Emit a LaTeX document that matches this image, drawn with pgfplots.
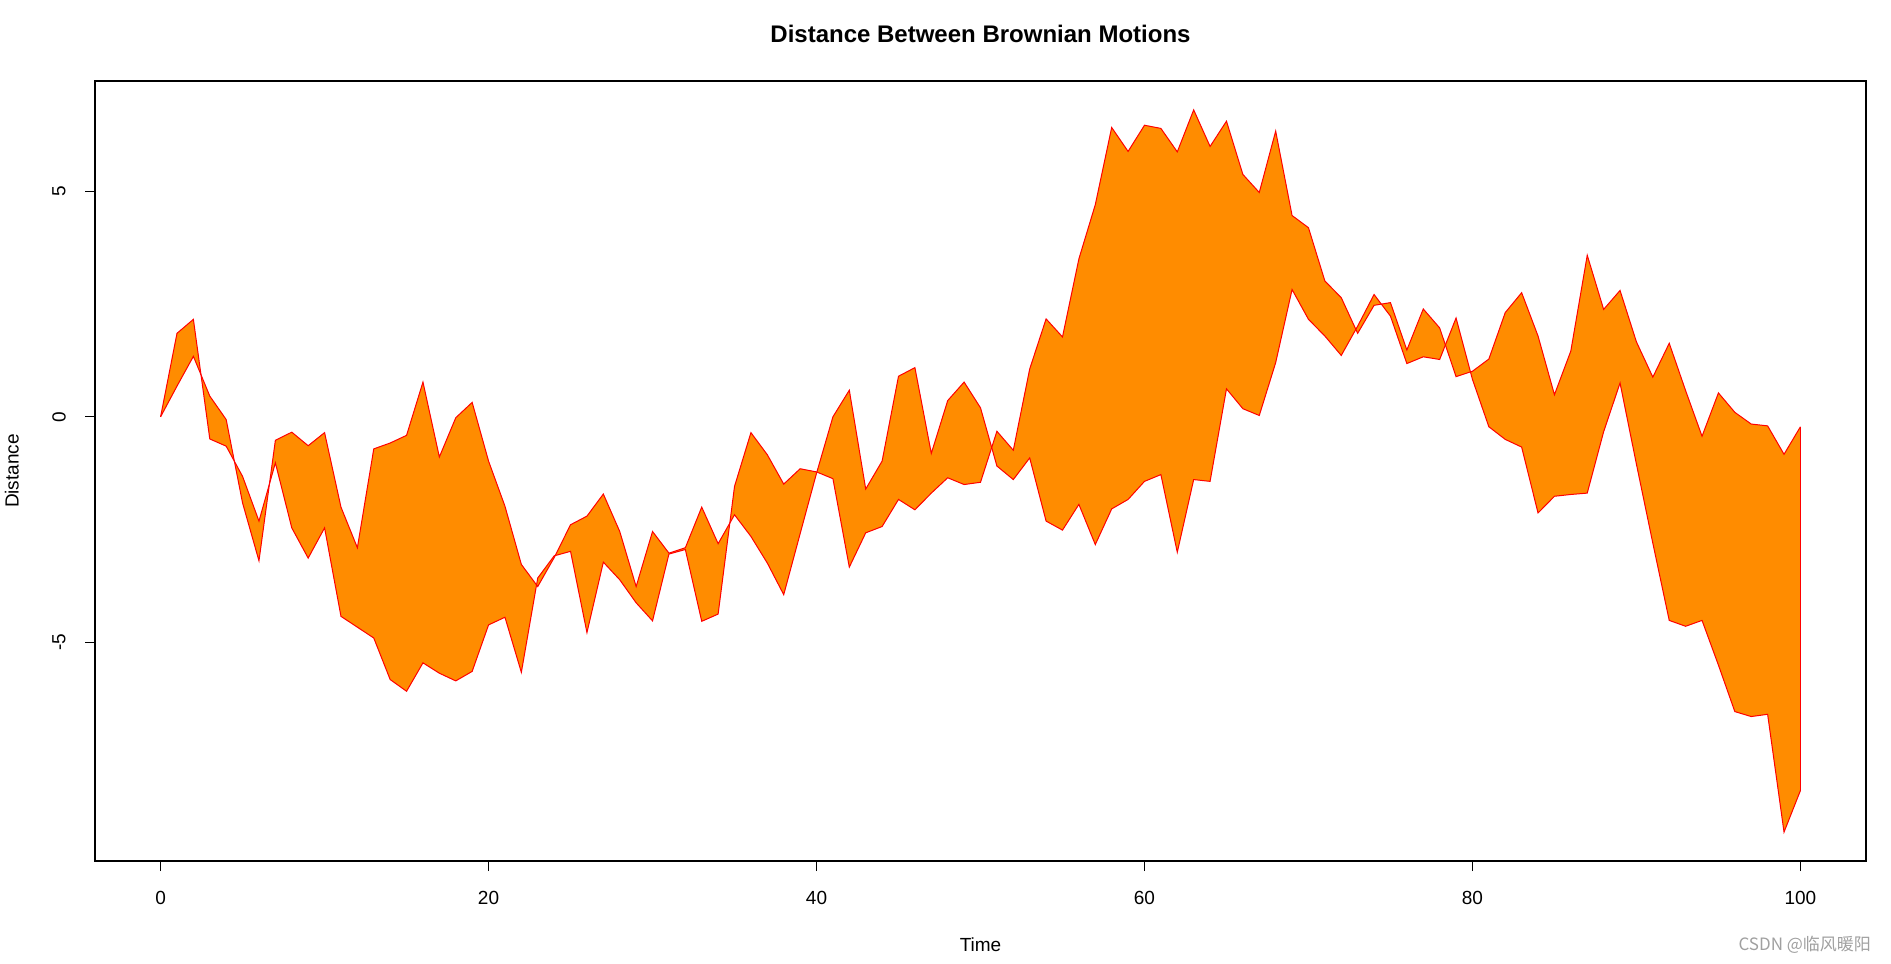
\documentclass[border=0pt]{standalone}
\usepackage{fontspec}
\setmainfont{Liberation Sans}
\newfontfamily\cjk{Noto Sans CJK SC}
\usepackage{pgfplots}
\pgfplotsset{compat=1.18}
\usepackage{pgfplotstable}
\usepgfplotslibrary{fillbetween}
\definecolor{darkorange}{RGB}{255,140,0}
\definecolor{wmgray}{RGB}{160,160,160}

\pgfplotstableread{
t v
0 0
1 1.85
2 2.16
3 -0.49
4 -0.65
5 -1.32
6 -2.31
7 -1.02
8 -2.46
9 -3.13
10 -2.46
11 -4.42
12 -4.66
13 -4.90
14 -5.82
15 -6.08
16 -5.45
17 -5.68
18 -5.85
19 -5.64
20 -4.61
21 -4.44
22 -5.66
23 -3.57
24 -3.08
25 -2.98
26 -4.78
27 -3.22
28 -3.61
29 -4.12
30 -4.52
31 -3.04
32 -2.94
33 -4.53
34 -4.37
35 -1.54
36 -0.35
37 -0.84
38 -1.49
39 -1.15
40 -1.22
41 -1.37
42 -3.33
43 -2.57
44 -2.43
45 -1.83
46 -2.06
47 -1.69
48 -1.35
49 -1.50
50 -1.45
51 -0.32
52 -0.74
53 1.06
54 2.17
55 1.77
56 3.50
57 4.70
58 6.41
59 5.88
60 6.46
61 6.39
62 5.87
63 6.80
64 5.99
65 6.55
66 5.37
67 4.97
68 6.33
69 4.46
70 4.19
71 3.01
72 2.64
73 1.85
74 2.47
75 2.53
76 1.48
77 2.39
78 1.97
79 0.89
80 1.01
81 1.28
82 2.31
83 2.75
84 1.79
85 0.49
86 1.46
87 3.58
88 2.38
89 2.80
90 1.66
91 0.88
92 1.63
93 0.58
94 -0.43
95 0.53
96 0.10
97 -0.16
98 -0.20
99 -0.83
100 -0.22
}\seriesA

\pgfplotstableread{
t v
0 0
1 0.68
2 1.34
3 0.46
4 -0.06
5 -1.91
6 -3.19
7 -0.52
8 -0.34
9 -0.64
10 -0.35
11 -2.00
12 -2.90
13 -0.71
14 -0.58
15 -0.41
16 0.77
17 -0.89
18 -0.02
19 0.32
20 -0.98
21 -1.98
22 -3.27
23 -3.76
24 -3.12
25 -2.39
26 -2.20
27 -1.71
28 -2.54
29 -3.76
30 -2.54
31 -3.02
32 -2.90
33 -2.00
34 -2.81
35 -2.17
36 -2.65
37 -3.24
38 -3.94
39 -2.59
40 -1.25
41 0.00
42 0.59
43 -1.60
44 -0.98
45 0.90
46 1.09
47 -0.81
48 0.36
49 0.77
50 0.20
51 -1.09
52 -1.39
53 -0.91
54 -2.31
55 -2.51
56 -1.94
57 -2.83
58 -2.04
59 -1.83
60 -1.43
61 -1.28
62 -3.00
63 -1.39
64 -1.43
65 0.62
66 0.18
67 0.03
68 1.20
69 2.82
70 2.16
71 1.79
72 1.36
73 2.01
74 2.71
75 2.23
76 1.18
77 1.33
78 1.27
79 2.19
80 0.83
81 -0.22
82 -0.50
83 -0.67
84 -2.13
85 -1.76
86 -1.72
87 -1.69
88 -0.33
89 0.75
90 -1.05
91 -2.80
92 -4.51
93 -4.64
94 -4.51
95 -5.50
96 -6.53
97 -6.64
98 -6.59
99 -9.20
100 -8.28
}\seriesB

\begin{document}
\begin{tikzpicture}
\begin{axis}[
  at={(0,0)}, anchor=south west,
  scale only axis, width=885.5pt, height=390pt,
  xmin=-4, xmax=104, ymin=-9.84, ymax=7.44,
  clip=false,
  xtick={0,20,40,60,80,100}, xticklabels={0,20,40,60,80,100},
  ytick={-5,0,5}, yticklabels={-5,0,5},
  xtick pos=bottom, ytick pos=left,
  tick align=outside, major tick length=5pt,
  tick style={black, line width=0.5pt},
  axis line style={black, line width=0.6pt},
  ticklabel style={font=\fontsize{9.5}{11}\selectfont},
  xticklabel style={anchor=center, yshift=-13.5pt},
  yticklabel style={anchor=center, xshift=-13pt, rotate=90},
  title={Distance Between Brownian Motions},
  title style={at={(axis description cs:0.5,1.0449)}, anchor=center, font=\fontsize{12}{14}\selectfont\bfseries},
  xlabel={Time},
  xlabel style={at={(axis description cs:0.5,-0.1077)}, anchor=center, font=\fontsize{9.5}{11}\selectfont},
  ylabel={Distance},
  ylabel style={at={(axis description cs:-0.0469,0.5)}, anchor=center, font=\fontsize{9.5}{11}\selectfont},
]
\addplot[draw=none, name path=A] table[x=t, y=v] {\seriesA};
\addplot[draw=none, name path=B] table[x=t, y=v] {\seriesB};
\addplot[fill=darkorange, draw=none] fill between[of=A and B];
\addplot[red, line width=0.5pt] table[x=t, y=v] {\seriesA};
\addplot[red, line width=0.5pt] table[x=t, y=v] {\seriesB};
\addplot[red, line width=0.5pt] coordinates {(100,-0.22) (100,-8.28)};
\node[anchor=east, text=wmgray, font=\cjk\fontsize{8.5}{10}\selectfont] at (axis description cs:1.0068,-0.1077) {CSDN @临风暖阳};
\end{axis}
\pgfresetboundingbox
\path[use as bounding box] (-47.5pt,-51.5pt) rectangle (898pt,430.5pt);
\end{tikzpicture}
\end{document}
